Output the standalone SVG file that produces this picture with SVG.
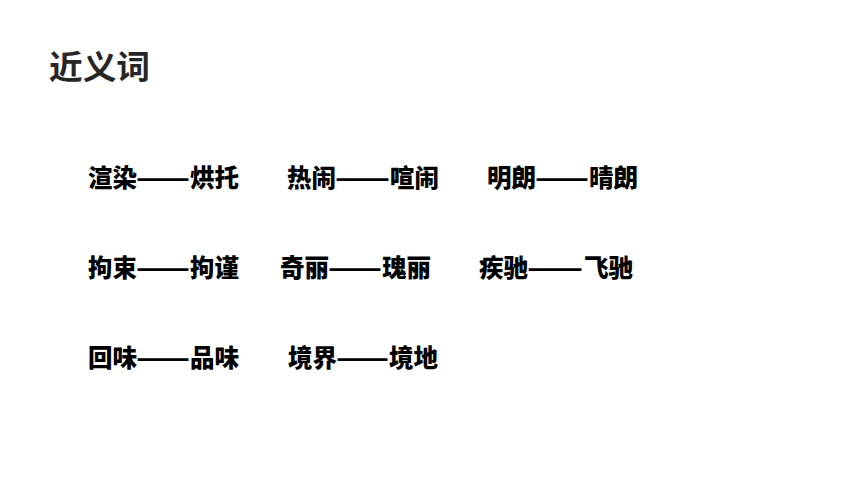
<svg xmlns="http://www.w3.org/2000/svg" width="860" height="484" viewBox="0 0 860 484">
<style>
.t{font-family:"Noto Sans CJK SC","Noto Sans CJK JP",sans-serif;font-weight:900;}
.title{font-size:33px;fill:#262626;font-weight:bold;}
.w{font-size:24.5px;fill:#000;}
</style>
<rect width="860" height="484" fill="#fff"/>
<g id="title"><text class="t title" x="49" y="79" textLength="101" lengthAdjust="spacingAndGlyphs">近义词</text></g>
<g id="row1">
<g id="n1"><text class="t w" x="88" y="187">渲染</text><text class="t w" x="136" y="187" textLength="54" lengthAdjust="spacingAndGlyphs">——</text><text class="t w" x="190" y="187">烘托</text></g>
<g id="n2"><text class="t w" x="287" y="187">热闹</text><text class="t w" x="335" y="187" textLength="55" lengthAdjust="spacingAndGlyphs">——</text><text class="t w" x="390" y="187">喧闹</text></g>
<g id="n3"><text class="t w" x="487" y="187">明朗</text><text class="t w" x="535" y="187" textLength="54" lengthAdjust="spacingAndGlyphs">——</text><text class="t w" x="589" y="187">晴朗</text></g>
</g>
<g id="row2">
<g id="n4"><text class="t w" x="88" y="277">拘束</text><text class="t w" x="136" y="277" textLength="54" lengthAdjust="spacingAndGlyphs">——</text><text class="t w" x="190" y="277">拘谨</text></g>
<g id="n5"><text class="t w" x="280" y="277">奇丽</text><text class="t w" x="328" y="277" textLength="54" lengthAdjust="spacingAndGlyphs">——</text><text class="t w" x="382" y="277">瑰丽</text></g>
<g id="n6"><text class="t w" x="479" y="277">疾驰</text><text class="t w" x="527" y="277" textLength="56" lengthAdjust="spacingAndGlyphs">——</text><text class="t w" x="584" y="277">飞驰</text></g>
</g>
<g id="row3">
<g id="n7"><text class="t w" x="88" y="367">回味</text><text class="t w" x="136" y="367" textLength="54" lengthAdjust="spacingAndGlyphs">——</text><text class="t w" x="190" y="367">品味</text></g>
<g id="n8"><text class="t w" x="288" y="367">境界</text><text class="t w" x="336" y="367" textLength="53" lengthAdjust="spacingAndGlyphs">——</text><text class="t w" x="389" y="367">境地</text></g>
</g>
</svg>
